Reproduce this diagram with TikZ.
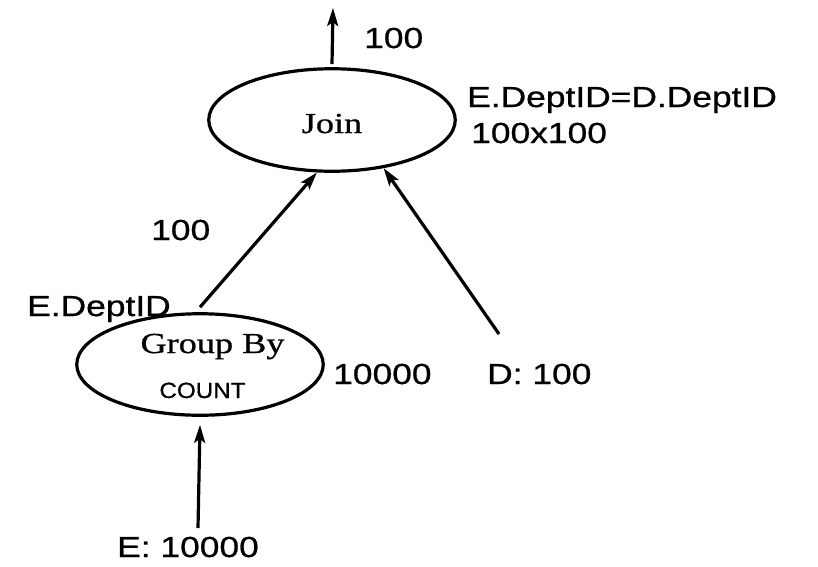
\documentclass[tikz,border=0pt]{standalone}
\usepackage{fontspec}
\usetikzlibrary{shapes.geometric,arrows.meta}
\newfontfamily\labfont[FakeStretch=1.22,FakeBold=0.8]{Liberation Sans}
\newfontfamily\opfont[FakeStretch=1.25,FakeBold=0.8]{Liberation Serif}
\newfontfamily\cntfont[FakeStretch=1.1,FakeBold=0.8]{Liberation Sans}
\tikzset{
  opnode/.style={draw, ellipse, line width=3.2pt, minimum width=246.5pt, minimum height=102.5pt, inner sep=0pt},
  lab/.style={font=\labfont\fontsize{29}{29}\selectfont, inner sep=0pt, anchor=base west},
  optext/.style={font=\opfont\fontsize{29}{29}\selectfont, inner sep=0pt, anchor=base},
  cnttext/.style={font=\cntfont\fontsize{22}{22}\selectfont, inner sep=0pt, anchor=base},
  arr/.style={line width=3.2pt, -{Stealth[length=18pt,width=11pt,inset=4pt]}}
}
\begin{document}
\begin{tikzpicture}[x=1pt,y=-1pt]
\useasboundingbox[fill=white] (0,0) rectangle (818,566);
% operator ellipses
\node[opnode] (join) at (332,120) {};
\node[opnode, minimum height=101.5pt] (gb) at (200,364.5) {};
% operator texts
\node[optext] (jointext) at (332,133) {Join};
\node[optext] (gbtext) at (212.5,353) {Group By};
\node[cnttext] (cnt) at (202.5,398) {COUNT};
% labels
\node[lab] (outcard) at (364,48) {100};
\node[lab] (pred) at (467,107) {E.DeptID=D.DeptID};
\node[lab] (cost) at (471,143) {100x100};
\node[lab] (gbcard) at (151,240) {100};
\node[lab] (gbkey) at (27,316) {E.DeptID};
\node[lab] (gbcost) at (333,384) {10000};
\node[lab] (dtab) at (487,384) {D: 100};
\node[lab] (etab) at (117,557) {E: 10000};
% free ends
\coordinate (out) at (333,8);
\coordinate (dtail) at (499,334);
\coordinate (etail) at (198,528);
% connectors
\draw[arr] ([yshift=3pt]join.north) -- (out);
\draw[arr] ([yshift=5pt]gb.north) -- (join.-106);
\draw[arr] (dtail) -- (join.-43);
\draw[arr] (etail) -- ([yshift=-8pt]gb.south);
\end{tikzpicture}
\end{document}
